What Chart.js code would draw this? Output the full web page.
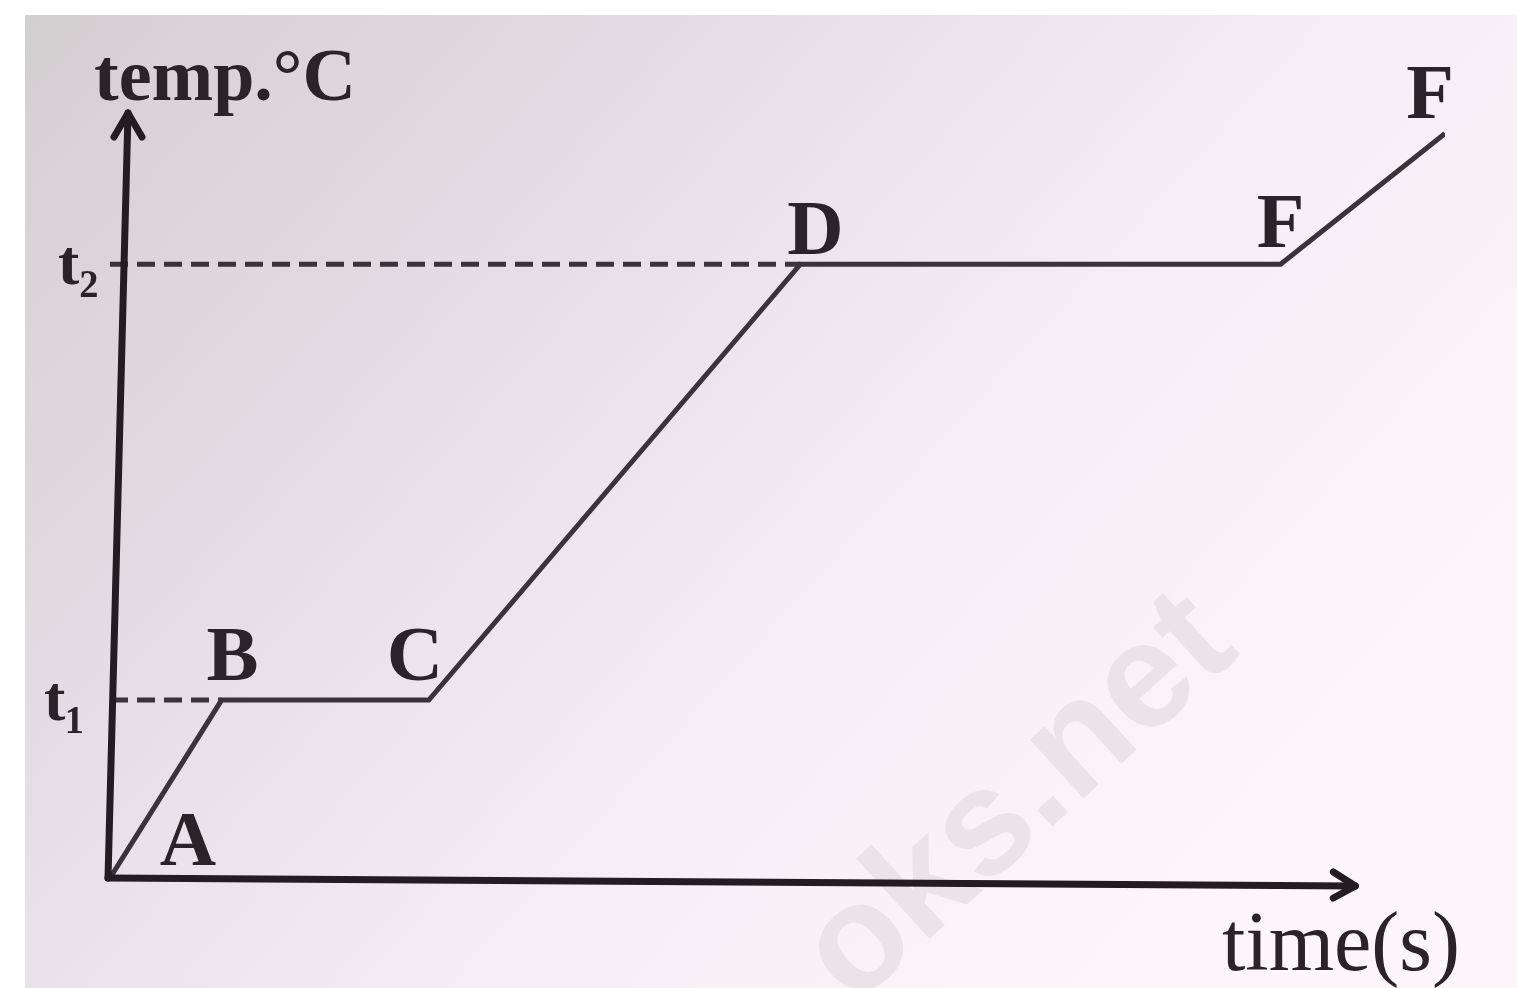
<!DOCTYPE html>
<html>
<head>
<meta charset="utf-8">
<script src="https://cdn.jsdelivr.net/npm/chart.js@4.4.1/dist/chart.umd.min.js"></script>
<style>
  html, body { margin: 0; padding: 0; background: #ffffff; }
  #wrap { width: 1517px; height: 988px; position: relative; }
</style>
</head>
<body>
<div id="wrap"><canvas id="heatChart"></canvas></div>
<script>
// heating curve: time (arbitrary units) vs temperature
const timeValues = [0, 1.12, 3.2, 6.93, 11.75, 13.4];
const tempValues = [0, 20, 20, 69, 69, 83.7];
const pointLabels = ['A', 'B', 'C', 'D', 'F', 'F'];

// marked temperatures on the y axis
const tickValues = [20, 69];
const tickLabels = ['t₁', 't₂'];

// dashed guide lines end at B and D
const guideEnds = [1.12, 6.93];

const yTitle = 'temp.°C';
const xTitle = 'time(s)';
const xAxisEnd = 12.5;
const yAxisEnd = 86;
const watermark = 'oks.net';

const ink = '#3a3438';
const axisInk = '#231d21';

let ctx = document.getElementById('heatChart').getContext('2d');

// paper background of the photo
const paperPlugin = {
    id: 'paper',
    beforeDraw(chart) {
        const c = chart.ctx;
        c.save();
        c.fillStyle = '#ffffff';
        c.fillRect(0, 0, chart.width, chart.height);
        let g = c.createLinearGradient(25, 15, 1100, 988);
        g.addColorStop(0, '#d2cfd1');
        g.addColorStop(0.35, '#e4dde3');
        g.addColorStop(0.7, '#f5eef4');
        g.addColorStop(1, '#fcf6fa');
        c.fillStyle = g;
        c.fillRect(25, 15, chart.width - 25, chart.height - 15);

        // faint watermark
        c.translate(1020, 800);
        c.rotate(-0.74);
        c.font = 'bold 150px "Liberation Sans"';
        c.fillStyle = 'rgba(230, 226, 230, 0.9)';
        c.textAlign = 'center';
        c.textBaseline = 'middle';
        c.fillText(watermark, 0, 0);
        c.restore();
    }
};

// axes with arrowheads and all text
const axesPlugin = {
    id: 'axesText',
    afterDatasetsDraw(chart) {
        const c = chart.ctx;
        const xs = chart.scales.x, ys = chart.scales.y;
        const x0 = xs.getPixelForValue(0) - 2;
        const y0 = ys.getPixelForValue(0);
        const yTop = ys.getPixelForValue(yAxisEnd);
        const xEnd = xs.getPixelForValue(xAxisEnd);

        c.save();
        c.strokeStyle = axisInk;
        c.lineWidth = 7;
        c.lineCap = 'round';
        c.lineJoin = 'round';

        // y axis (slightly leaning like the photo)
        c.beginPath();
        c.moveTo(x0, y0);
        c.lineTo(x0 + 20, yTop);
        c.stroke();
        c.beginPath();
        c.moveTo(x0 + 6, yTop + 24);
        c.lineTo(x0 + 20, yTop);
        c.lineTo(x0 + 34, yTop + 24);
        c.stroke();

        // x axis
        c.beginPath();
        c.moveTo(x0, y0);
        c.lineTo(xEnd, y0 + 8);
        c.stroke();
        c.beginPath();
        c.moveTo(xEnd - 22, y0 - 6);
        c.lineTo(xEnd, y0 + 8);
        c.lineTo(xEnd - 22, y0 + 20);
        c.stroke();

        c.fillStyle = '#2a2428';
        c.textAlign = 'left';
        c.textBaseline = 'alphabetic';
        c.font = 'bold 74px "Liberation Serif"';
        c.fillText(yTitle, 94, 100);

        c.font = '84px "Liberation Serif"';
        c.fillText(xTitle, 1222, 970);

        // tick labels
        const tickX = [44, 58];
        c.font = 'bold 64px "Liberation Serif"';
        tickValues.forEach((v, i) => {
            c.fillText(tickLabels[i], tickX[i], ys.getPixelForValue(v) + 20);
        });

        // point labels
        const offs = [[78, -13], [11, -20], [-14, -20], [15, -10], [0, -17], [-15, -15]];
        c.font = 'bold 78px "Liberation Serif"';
        c.textAlign = 'center';
        pointLabels.forEach((lab, i) => {
            const px = xs.getPixelForValue(timeValues[i]);
            const py = ys.getPixelForValue(tempValues[i]);
            c.fillText(lab, px + offs[i][0], py + offs[i][1]);
        });
        c.restore();
    }
};

const curve = timeValues.map((t, i) => ({ x: t, y: tempValues[i] }));
const guides = tickValues.map((v, i) => ({
    data: [{ x: 0, y: v }, { x: guideEnds[i], y: v }],
    showLine: true,
    borderColor: ink,
    borderWidth: 5,
    borderDash: [18, 9],
    pointRadius: 0
}));

let chart = new Chart(ctx, {
    type: 'scatter',
    data: {
        datasets: [{
            label: 'heating curve',
            data: curve,
            showLine: true,
            borderColor: ink,
            borderWidth: 5,
            pointRadius: 0,
            tension: 0
        }].concat(guides)
    },
    options: {
        responsive: true,
        maintainAspectRatio: false,
        animation: false,
        layout: { padding: { left: 110, right: 72, top: 113, bottom: 110 } },
        plugins: {
            legend: { display: false },
            tooltip: { enabled: false }
        },
        scales: {
            x: { type: 'linear', min: 0, max: 13.4, display: false },
            y: { type: 'linear', min: 0, max: yAxisEnd, display: false }
        }
    },
    plugins: [paperPlugin, axesPlugin]
});
</script>
</body>
</html>
